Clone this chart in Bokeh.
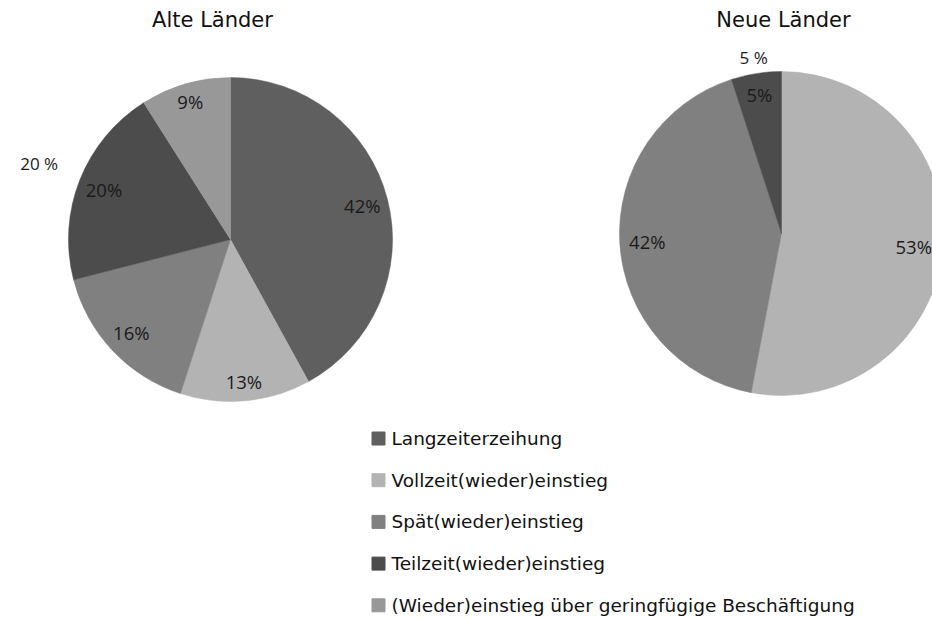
import numpy as np
from bokeh.plotting import figure
from bokeh.models import Range1d, ColumnDataSource
from bokeh.core.properties import value
from bokeh.embed import file_html
from bokeh.resources import INLINE

# ---- data ----
categories = ["Langzeiterzeihung", "Vollzeit(wieder)einstieg", "Spät(wieder)einstieg",
              "Teilzeit(wieder)einstieg", "(Wieder)einstieg über geringfügige Beschäftigung"]
colors = ["#5f5f5f", "#b3b3b3", "#808080", "#4c4c4c", "#989898"]
alte_values = [42, 13, 16, 20, 9]
neue_values = [0, 53, 42, 5, 0]
titles = ["Alte Länder", "Neue Länder"]
# extra outside annotations: (category index, text, distance factor)
alte_notes = [(3, "20 %", 1.27)]
neue_notes = [(3, "5 %", 1.10)]

W, H = 932, 618
def X(sx): return sx
def Y(sy): return H - sy

p = figure(width=W, height=H, output_backend="svg", toolbar_location=None,
           x_range=Range1d(0, W), y_range=Range1d(0, H), min_border=0)
p.axis.visible = False
p.grid.visible = False
p.outline_line_color = None
p.background_fill_color = "white"

R = 162
FONT_LBL = value("Open Sans")
FONT_TXT = value("DejaVu Sans")

def draw_pie(cx, cy, vals, notes, title, title_x, title_y, label_f):
    vals = np.array(vals, dtype=float)
    frac = vals / vals.sum()
    cum = np.concatenate([[0], np.cumsum(frac)])
    start = np.pi / 2 - cum[:-1] * 2 * np.pi
    end = np.pi / 2 - cum[1:] * 2 * np.pi
    keep = vals > 0
    src = ColumnDataSource(dict(start=start[keep], end=end[keep],
                                color=[c for c, k in zip(colors, keep) if k]))
    p.wedge(x=X(cx), y=Y(cy), radius=R, start_angle="start", end_angle="end",
            direction="clock", fill_color="color", line_color="color", line_width=0.5,
            source=src)
    mid = np.pi / 2 - (cum[:-1] + frac / 2) * 2 * np.pi
    lf = np.array(label_f)
    lx = X(cx) + lf * R * np.cos(mid)
    ly = Y(cy) + lf * R * np.sin(mid)
    txt = ["%d%%" % v for v in vals]
    lsrc = ColumnDataSource(dict(x=lx[keep], y=ly[keep], t=[t for t, k in zip(txt, keep) if k]))
    p.text(x="x", y="y", text="t", source=lsrc, text_align="center", text_baseline="middle",
           text_font=FONT_LBL, text_font_size="18.5px", text_color="#1a1a1a")
    for idx, t, f in notes:
        p.text(x=[X(cx) + f * R * np.cos(mid[idx])], y=[Y(cy) + f * R * np.sin(mid[idx])],
               text=[t], text_align="center", text_baseline="middle",
               text_font=FONT_LBL, text_font_size="17px", text_color="#1a1a1a")
    p.text(x=[X(title_x)], y=[Y(title_y)], text=[title], text_align="center",
           text_baseline="middle", text_font=FONT_TXT, text_font_size="21px",
           text_color="#111111")

draw_pie(230, 239, alte_values, alte_notes, titles[0], 212, 19, [0.84, 0.88, 0.84, 0.84, 0.89])
draw_pie(781, 233, neue_values, neue_notes, titles[1], 783, 19, [0.84, 0.82, 0.83, 0.87, 0.84])

# ---- legend ----
leg_y0, leg_dy = 438, 41.7
ly = [Y(leg_y0 + i * leg_dy) for i in range(len(categories))]
p.scatter(x=[X(378)] * len(categories), y=ly, marker="square", size=13,
          fill_color=colors, line_color=colors)
p.text(x=[X(391)] * len(categories), y=ly, text=categories, text_align="left",
       text_baseline="middle", text_font=FONT_TXT, text_font_size="18.5px",
       text_color="#111111")

open("out.html", "w").write(file_html(p, INLINE))
